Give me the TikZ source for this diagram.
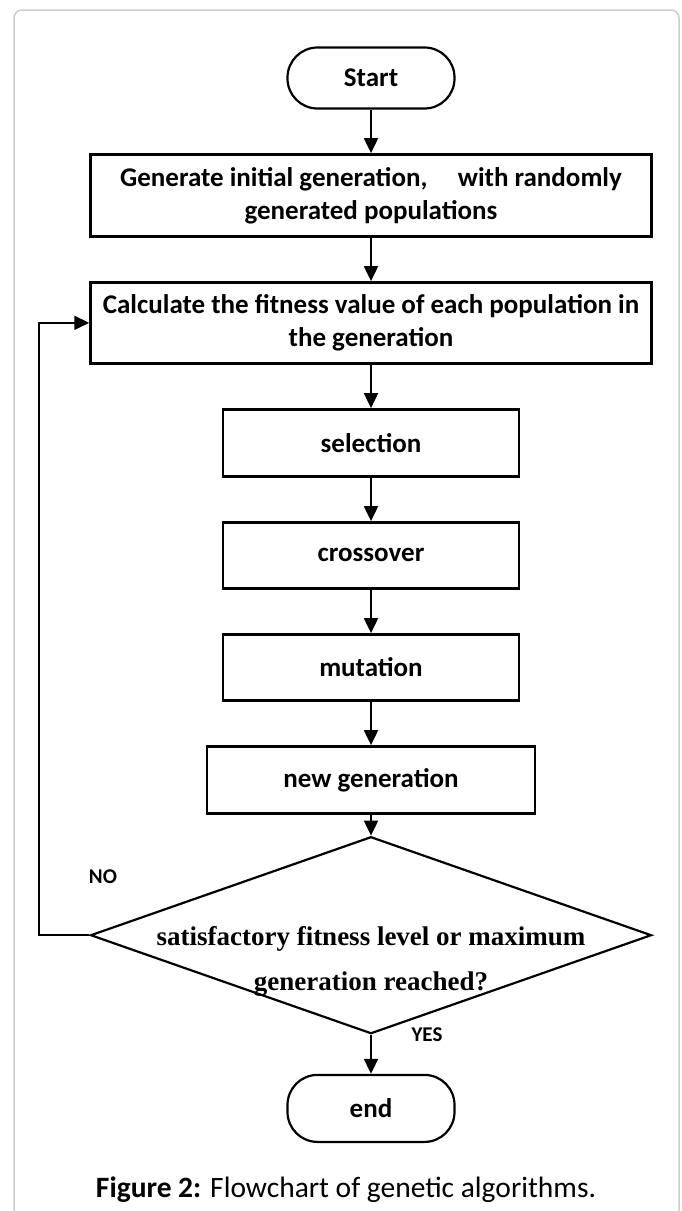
\documentclass[tikz,border=0pt]{standalone}
\usepackage{fontspec}
\setmainfont{Carlito}
\newfontfamily\serifbold{Liberation Serif}
\usepackage{tikz}
\usetikzlibrary{shapes.geometric, arrows.meta, positioning}
\newcommand{\boxfont}{\fontsize{27}{33}\selectfont\bfseries}
\newcommand{\tagfont}{\fontsize{21}{24}\selectfont\bfseries}
\tikzset{
  terminal/.style={rectangle, rounded corners=30pt, minimum width=167pt, minimum height=61pt, text centered, draw=black, line width=2.2pt, font=\boxfont},
  process/.style={rectangle, minimum width=561pt, minimum height=82pt, align=center, draw=black, line width=2.5pt, font=\boxfont},
  opbox/.style={rectangle, minimum width=296pt, minimum height=66pt, text centered, draw=black, line width=2.5pt, font=\boxfont},
  decision/.style={diamond, minimum width=561pt, minimum height=197pt, inner sep=0pt, draw=black, line width=2.2pt},
  arrow/.style={line width=2pt, -{Triangle[width=14pt,length=15pt]}, color=black},
  tag/.style={font=\tagfont}
}

\begin{document}
\begin{tikzpicture}[x=1pt, y=-1pt, node distance=43.5pt]
    \useasboundingbox (0,0) rectangle (681,1211);
    \draw[gray!40, line width=1.5pt, rounded corners=8pt] (14,10) rectangle (679,1250);

    % Defining nodes
    \node[terminal] (start) at (371,78) {Start};
    \node[process, below=of start] (init) {Generate initial generation,\hspace{0.9em} with randomly\\generated populations};
    \node[process, below=of init, minimum height=81pt] (fitness) {Calculate the fitness value of each population in\\the generation};
    \node[opbox, below=of fitness, minimum height=67pt] (select) {selection};
    \node[opbox, below=of select] (cross) {crossover};
    \node[opbox, below=of cross] (mutate) {mutation};
    \node[opbox, below=of mutate, minimum width=328pt, minimum height=67pt] (newgen) {new generation};
    \node[decision, below=21pt of newgen] (check) {};
    \node[align=center, font=\fontsize{27}{45}\selectfont\serifbold\bfseries] (checktext) at ([yshift=-26pt]check.center) {satisfactory fitness level or maximum\\generation reached?};
    \node[terminal, below=39pt of check, minimum height=67pt] (end) {end};
    \node[tag] (no) at (103,877) {NO};
    \node[tag] (yes) at (427,1035) {YES};
    \node[font=\fontsize{29.5}{34}\selectfont] (caption) at (346,1190) {\textbf{Figure 2:} Flowchart of genetic algorithms.};

    % Drawing arrows
    \draw[arrow] (start) -- (init);
    \draw[arrow] (init) -- (fitness);
    \draw[arrow] (fitness) -- (select);
    \draw[arrow] (select) -- (cross);
    \draw[arrow] (cross) -- (mutate);
    \draw[arrow] (mutate) -- (newgen);
    \draw[arrow] (newgen) -- (check);
    \draw[arrow] (check) -- (end);
    \draw[arrow] (check.west) -- ++(-50,0) |- (fitness.west);
\end{tikzpicture}
\end{document}
